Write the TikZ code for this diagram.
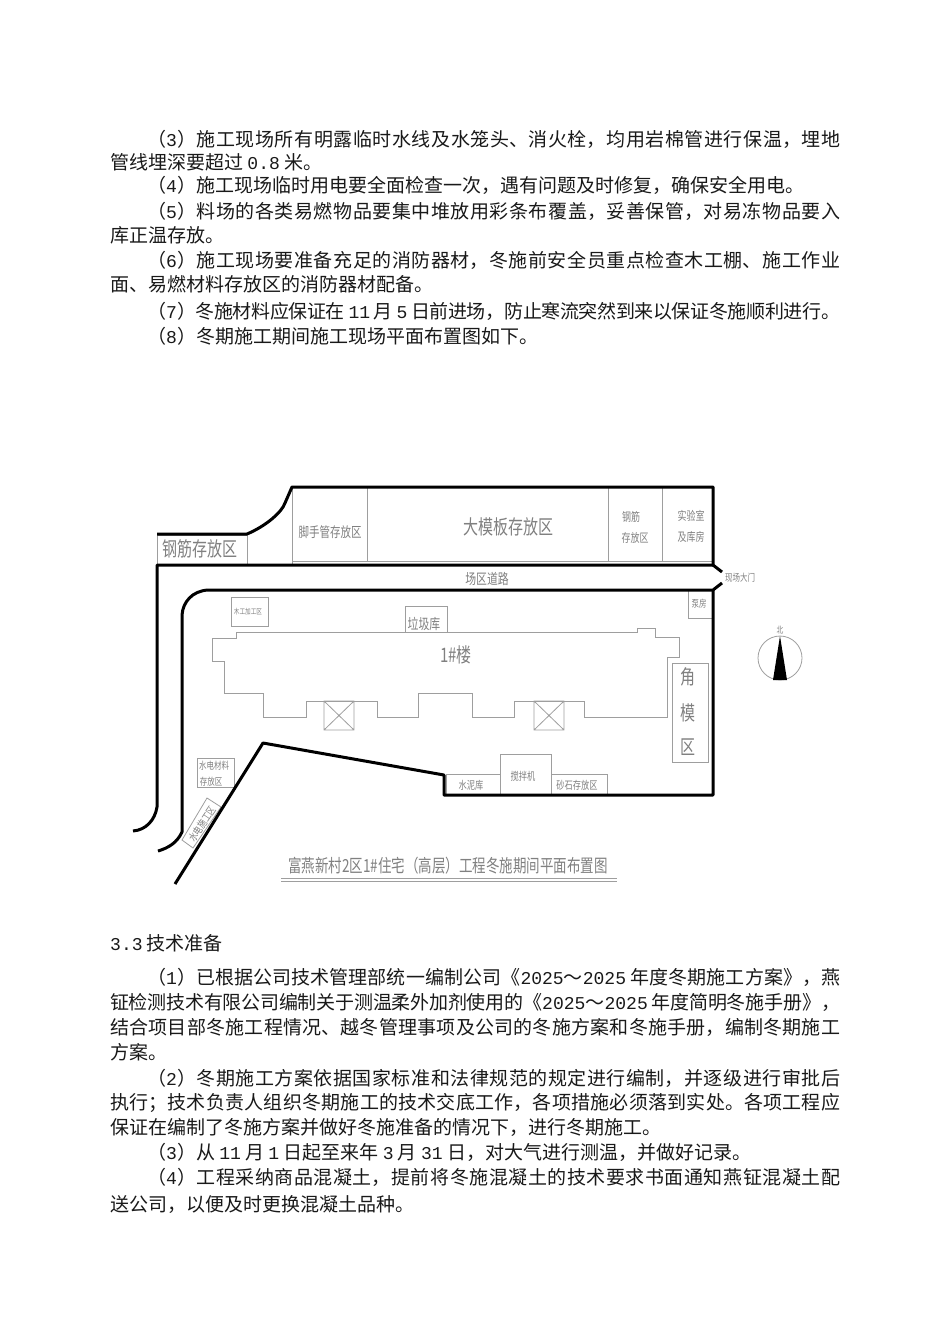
\documentclass[tikz,border=0pt]{standalone}
\usepackage{graphicx}
\usepackage{fontspec}
\setmainfont{Noto Sans CJK SC}
\newfontfamily\numfont[Scale=0.95]{Liberation Mono}
\XeTeXlinebreaklocale "zh"
\XeTeXlinebreakskip=0pt plus 2pt minus 1pt
\newcommand{\nar}[1]{\scalebox{0.75}[1]{#1}}
\newcommand{\dg}[1]{{\numfont #1}}
\newcommand{\fullline}[2]{\parbox{#1pt}{\parfillskip=0pt\rightskip=0pt\relax #2\par}}
\tikzset{
  wall/.style={line width=3pt, line join=round},
  thin/.style={line width=0.8pt, draw=black!38},
  cad/.style={inner sep=0pt, text=black!50, font=\fontsize{#1}{#1}\selectfont},
  para/.style={anchor=west, inner sep=0pt, text=black!90, font=\fontsize{19}{19}\selectfont}
}
\begin{document}
\begin{tikzpicture}[x=1pt, y=-1pt]
  \useasboundingbox (0,0) rectangle (950,1344);
  % text above and below the plan
  \foreach \lx/\ly/\lw/\ltxt [count=\i] in {
    147/139/693/（\dg{3}）施工现场所有明露临时水线及水笼头、消火栓，均用岩棉管进行保温，埋地,
    147/211/693/（\dg{5}）料场的各类易燃物品要集中堆放用彩条布覆盖，妥善保管，对易冻物品要入,
    147/260/693/（\dg{6}）施工现场要准备充足的消防器材，冬施前安全员重点检查木工棚、施工作业,
    147/311/693/（\dg{7}）冬施材料应保证在 \dg{11} 月 \dg{5} 日前进场，防止寒流突然到来以保证冬施顺利进行。,
    147/977/693/（\dg{1}）已根据公司技术管理部统一编制公司《\dg{2025}～\dg{2025} 年度冬期施工方案》，燕,
    110/1002/730/钲检测技术有限公司编制关于测温柔外加剂使用的《\dg{2025}～\dg{2025} 年度简明冬施手册》，,
    110/1027/730/结合项目部冬施工程情况、越冬管理事项及公司的冬施方案和冬施手册，编制冬期施工,
    147/1078/693/（\dg{2}）冬期施工方案依据国家标准和法律规范的规定进行编制，并逐级进行审批后,
    110/1103/730/执行；技术负责人组织冬期施工的技术交底工作，各项措施必须落到实处。各项工程应,
    147/1177/693/（\dg{4}）工程采纳商品混凝土，提前将冬施混凝土的技术要求书面通知燕钲混凝土配}
    \node[para] (full\i) at (\lx,\ly) {\fullline{\lw}{\ltxt}};
  \foreach \lx/\ly/\ltxt [count=\i] in {
    110/162/管线埋深要超过 \dg{0.8} 米。,
    147/185/（\dg{4}）施工现场临时用电要全面检查一次，遇有问题及时修复，确保安全用电。,
    110/235/库正温存放。,
    110/284/面、易燃材料存放区的消防器材配备。,
    147/336/（\dg{8}）冬期施工期间施工现场平面布置图如下。,
    110/943/\dg{3.3} 技术准备,
    110/1052/方案。,
    110/1127/保证在编制了冬施方案并做好冬施准备的情况下，进行冬期施工。,
    147/1152/（\dg{3}）从 \dg{11} 月 \dg{1} 日起至来年 \dg{3} 月 \dg{31} 日，对大气进行测温，并做好记录。,
    110/1205/送公司，以便及时更换混凝土品种。}
    \node[para] (short\i) at (\lx,\ly) {\ltxt};
  % thin boxes
  \draw[thin] (157,535) rectangle (247,565);
  \draw[thin] (292,561) -- (713,561);
  \draw[thin] (292,487) -- (292,565);
  \draw[thin] (367,487) -- (367,561);
  \draw[thin] (608,487) -- (608,561);
  \draw[thin] (662,487) -- (662,561);
  \draw[thin] (688,590) -- (688,618) -- (713,618);
  \draw[thin] (231,597) rectangle (268,626);
  \draw[thin] (405,632) -- (405,606) -- (447,606) -- (447,632);
  \draw[thin] (672,663) rectangle (708,762);
  \draw[thin] (197,758) rectangle (234,787);
  \draw[thin] (207,798) -- (221,807) -- (193,848) -- (182,840) -- cycle;
  \draw[thin] (446,795) -- (446,774) -- (500,774);
  \draw[thin] (500,795) -- (500,754) -- (551,754) -- (551,795);
  \draw[thin] (551,774) -- (607,774) -- (607,795);
  % building
  \draw[thin] (236,632) -- (637,632) -- (637,628) -- (655,628) -- (655,637) -- (679,637)
    -- (679,657) -- (667,657) -- (667,717) -- (584,717) -- (584,701) -- (514,701)
    -- (514,717) -- (472,717) -- (472,693) -- (418,693) -- (418,717) -- (377,717)
    -- (377,701) -- (306,701) -- (306,717) -- (263,717) -- (263,693) -- (224,693)
    -- (224,661) -- (212,661) -- (212,638) -- (236,638) -- cycle;
  \draw[thin] (324,701) rectangle (354,730) (324,701) -- (354,730) (354,701) -- (324,730);
  \draw[thin] (534,701) rectangle (564,730) (534,701) -- (564,730) (564,701) -- (534,730);
  % site boundary
  \draw[wall] (157,534) -- (247,534) .. controls (266,526) and (282,512) .. (285,503)
    -- (292,487) -- (713,487) -- (713,565) -- (722,572);
  \draw[wall] (713,565) -- (157,565) -- (157,807) .. controls (155,820) and (146,830) .. (133,831);
  \draw[wall] (722,583) -- (713,590) -- (208,590) .. controls (192,591) and (183,602) .. (182,615)
    -- (182,832) .. controls (177,843) and (168,848) .. (158,851);
  \draw[wall] (713,590) -- (713,795) -- (444,795) -- (444,775) -- (263,743) -- (175,884);
  % north mark
  \draw[thin] (780,658) circle (22);
  \fill (780,636) -- (787,680) -- (773,680) -- cycle;
  \node[cad=9] (north) at (780,630) {\nar{北}};
  % labels
  \node[cad=20] (rebar) at (200,549) {\nar{钢筋存放区}};
  \node[cad=14] (pipe) at (330,532) {\nar{脚手管存放区}};
  \node[cad=20] (form) at (508,527) {\nar{大模板存放区}};
  \node[cad=12] (steelA) at (631,517) {\nar{钢筋}};
  \node[cad=12] (steelB) at (635,538) {\nar{存放区}};
  \node[cad=12] (labA) at (691,516) {\nar{实验室}};
  \node[cad=12] (labB) at (691,537) {\nar{及库房}};
  \node[cad=14.5] (road) at (487,579) {\nar{场区道路}};
  \node[cad=10] (gate) at (740,578) {\nar{现场大门}};
  \node[cad=10] (pump) at (699,604) {\nar{泵房}};
  \node[cad=7.5] (wood) at (248,612) {\nar{木工加工区}};
  \node[cad=14.5] (trash) at (424,624) {\nar{垃圾库}};
  \node[cad=20] (bldg) at (456,655) {\nar{1\#楼}};
  \node[cad=20] (cornerA) at (688,677) {\nar{角}};
  \node[cad=20] (cornerB) at (688,713) {\nar{模}};
  \node[cad=20] (cornerC) at (688,747) {\nar{区}};
  \node[cad=10] (elecA) at (214,766) {\nar{水电材料}};
  \node[cad=10] (elecB) at (211,782) {\nar{存放区}};
  \node[cad=10.5, rotate=56] (elecC) at (202,824) {\nar{水电施工区}};
  \node[cad=11] (cement) at (471,785) {\nar{水泥库}};
  \node[cad=11] (mixer) at (523,776) {\nar{搅拌机}};
  \node[cad=11] (sand) at (577,785) {\nar{砂石存放区}};
  \node[cad=18] (title) at (448,866) {\nar{富燕新村2区1\#住宅（高层）工程冬施期间平面布置图}};
  \draw[thin] (281,878) -- (617,878) (281,881) -- (617,881);
\end{tikzpicture}
\end{document}
